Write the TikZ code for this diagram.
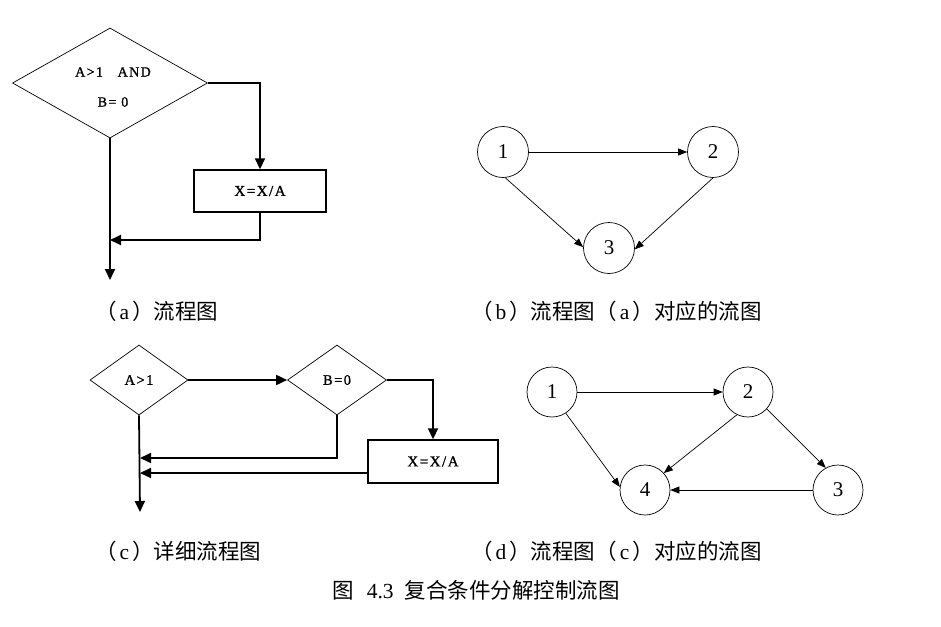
\documentclass[tikz,border=0pt]{standalone}
\usepackage{fontspec}
\setmainfont{Liberation Serif}
\newfontfamily\cjk{Noto Sans CJK SC}
\newfontfamily\pix[LetterSpace=10,FakeBold=1.2]{Liberation Serif}
\usetikzlibrary{shapes.geometric,arrows.meta}
\begin{document}
\begin{tikzpicture}[x=1pt,y=-1pt,
  dia/.style={draw, diamond, line width=0.7pt, inner sep=0pt, font=\pix\fontsize{14.5}{14.5}\selectfont},
  proc/.style={draw, rectangle, line width=1.4pt, inner sep=0pt, font=\pix\fontsize{15}{15}\selectfont},
  flow/.style={line width=1.8pt, -{Triangle[length=11pt,width=10pt]}},
  vtx/.style={draw, circle, minimum size=51pt, inner sep=0pt, line width=0.7pt, font=\fontsize{21}{21}\selectfont},
  gedge/.style={line width=0.7pt, -{Triangle[length=9pt,width=7pt]}},
  captxt/.style={anchor=west, inner sep=0pt, font=\cjk\fontsize{21.5}{21.5}\selectfont}
]
\useasboundingbox (0,0) rectangle (941,626);

% (a)
\node[dia, minimum width=195pt, minimum height=110pt] (da) at (110,83) {};
\node[font=\pix\fontsize{14}{30}\selectfont, align=center] (ta) at (113,87) {A>1\ \ \ AND\\B= 0};
\node[proc, minimum width=132pt, minimum height=42pt] (pa) at (260,191) {X=X/A};
\coordinate (ma) at (110,240);
\coordinate (ea) at (110,280);
\draw[flow] (da.east) -| (pa.north);
\draw[flow] (pa.south) |- (ma);
\draw[flow] (da.south) -- (ea);

% (c)
\node[dia, minimum width=98pt, minimum height=70pt] (dc1) at (139,380) {A>1};
\node[dia, minimum width=99pt, minimum height=70pt] (dc2) at (337,380) {B=0};
\node[proc, minimum width=130pt, minimum height=43pt] (pc) at (433,461.5) {X=X/A};
\coordinate (mc1) at (140,458);
\coordinate (mc2) at (140,473);
\coordinate (ec) at (140,512);
\draw[flow] (dc1.east) -- (dc2.west);
\draw[flow] (dc2.east) -| (pc.north);
\draw[flow] (dc2.south) |- (mc1);
\draw[flow] ([shift={(0,11.5)}]pc.west) -- (mc2);
\draw[flow] (dc1.south) -- (ec);

% (b)
\node[vtx] (b1) at (503,152) {1};
\node[vtx] (b2) at (713,152) {2};
\node[vtx] (b3) at (609,248) {3};
\draw[gedge] (b1.east) -- (b2.west);
\draw[gedge] (b1.-85) -- (b3.178);
\draw[gedge] (b2.-90) -- (b3.-3);

% (d)
\node[vtx, minimum size=50pt] (g1) at (552,392) {1};
\node[vtx, minimum size=50pt] (g2) at (748,392) {2};
\node[vtx, minimum size=50pt] (g3) at (838,490) {3};
\node[vtx, minimum size=50pt] (g4) at (645,490) {4};
\draw[gedge] (g1.east) -- (g2.west);
\draw[gedge] (g1.-57) -- (g4.173);
\draw[gedge] (g2.-116) -- (g4.42);
\draw[gedge] (g2.-42) -- (g3.119);
\draw[gedge] (g3.west) -- (g4.east);

% captions
\node[captxt] (capa) at (95,311) {（\hspace{3pt}{\rmfamily a}\hspace{3pt}）流程图};
\node[captxt] (capb) at (471,311) {（\hspace{3pt}{\rmfamily b}\hspace{3pt}）流程图（\hspace{3pt}{\rmfamily a}\hspace{3pt}）对应的流图};
\node[captxt] (capc) at (95,551) {（\hspace{3pt}{\rmfamily c}\hspace{3pt}）详细流程图};
\node[captxt] (capd) at (471,551) {（\hspace{3pt}{\rmfamily d}\hspace{3pt}）流程图（\hspace{3pt}{\rmfamily c}\hspace{3pt}）对应的流图};
\node[font=\cjk\fontsize{21.5}{21.5}\selectfont] (title) at (476,590) {图\hspace{13pt}{\rmfamily 4.3}\hspace{11pt}复合条件分解控制流图};
\end{tikzpicture}
\end{document}
